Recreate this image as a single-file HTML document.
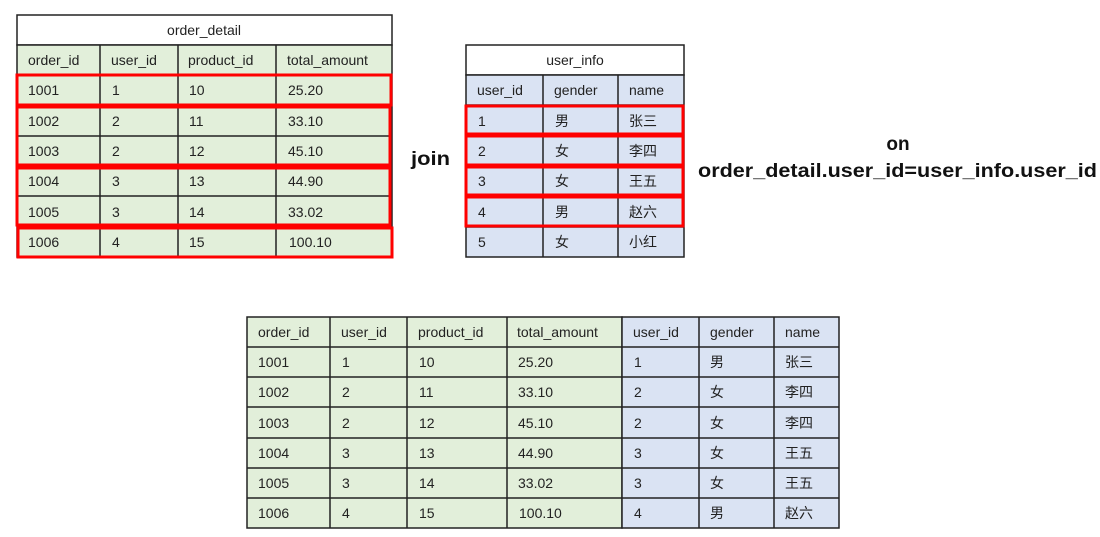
<!DOCTYPE html>
<html><head><meta charset="utf-8"><style>
html,body{margin:0;padding:0;background:#fff;}
svg{display:block;font-family:"Liberation Sans","Noto Sans CJK SC",sans-serif;}
.t{font-size:14px;fill:#222;}
.b{font-size:19px;font-weight:bold;fill:#111;}
</style></head><body>
<svg width="1100" height="537" viewBox="0 0 1100 537">
<!-- order_detail -->
<rect x="17" y="15" width="375" height="30" fill="#fff" stroke="#222" stroke-width="1.5"/>
<rect x="17" y="45" width="375" height="212" fill="#e2efda" stroke="#222" stroke-width="1.5"/>
<g stroke="#222" stroke-width="1.5">
<line x1="17" y1="75" x2="392" y2="75"/><line x1="17" y1="105" x2="392" y2="105"/><line x1="17" y1="136" x2="392" y2="136"/><line x1="17" y1="166" x2="392" y2="166"/><line x1="17" y1="196" x2="392" y2="196"/><line x1="17" y1="227" x2="392" y2="227"/>
<line x1="100" y1="45" x2="100" y2="257"/><line x1="178" y1="45" x2="178" y2="257"/><line x1="276" y1="45" x2="276" y2="257"/>
</g>
<text class="t" x="204" y="35" text-anchor="middle">order_detail</text>
<g class="t">
<text x="28" y="65">order_id</text><text x="111" y="65">user_id</text><text x="188" y="65">product_id</text><text x="287" y="65">total_amount</text>
<text x="28" y="95">1001</text><text x="112" y="95">1</text><text x="189" y="95">10</text><text x="288" y="95">25.20</text>
<text x="28" y="126">1002</text><text x="112" y="126">2</text><text x="189" y="126">11</text><text x="288" y="126">33.10</text>
<text x="28" y="156">1003</text><text x="112" y="156">2</text><text x="189" y="156">12</text><text x="288" y="156">45.10</text>
<text x="28" y="186">1004</text><text x="112" y="186">3</text><text x="189" y="186">13</text><text x="288" y="186">44.90</text>
<text x="28" y="217">1005</text><text x="112" y="217">3</text><text x="189" y="217">14</text><text x="288" y="217">33.02</text>
<text x="28" y="247">1006</text><text x="112" y="247">4</text><text x="189" y="247">15</text><text x="289" y="247">100.10</text>
</g>
<g fill="none" stroke="#f00" stroke-width="3">
<rect x="17" y="75" width="374" height="30"/>
<rect x="17" y="107" width="373" height="58"/>
<rect x="17" y="168" width="373" height="57"/>
<rect x="18" y="228" width="374" height="29"/>
</g>
<!-- user_info -->
<rect x="466" y="45" width="218" height="30" fill="#fff" stroke="#222" stroke-width="1.5"/>
<rect x="466" y="75" width="218" height="182" fill="#dae3f3" stroke="#222" stroke-width="1.5"/>
<g stroke="#222" stroke-width="1.5">
<line x1="466" y1="105" x2="684" y2="105"/><line x1="466" y1="135" x2="684" y2="135"/><line x1="466" y1="166" x2="684" y2="166"/><line x1="466" y1="196" x2="684" y2="196"/><line x1="466" y1="227" x2="684" y2="227"/>
<line x1="543" y1="75" x2="543" y2="257"/><line x1="618" y1="75" x2="618" y2="257"/>
</g>
<text class="t" x="575" y="65" text-anchor="middle">user_info</text>
<g class="t">
<text x="477" y="95">user_id</text><text x="554" y="95">gender</text><text x="629" y="95">name</text>
<text x="478" y="126">1</text><text x="555" y="126">男</text><text x="629" y="126">张三</text>
<text x="478" y="156">2</text><text x="555" y="156">女</text><text x="629" y="156">李四</text>
<text x="478" y="186">3</text><text x="555" y="186">女</text><text x="629" y="186">王五</text>
<text x="478" y="217">4</text><text x="555" y="217">男</text><text x="629" y="217">赵六</text>
<text x="478" y="247">5</text><text x="555" y="247">女</text><text x="629" y="247">小红</text>
</g>
<g fill="none" stroke="#f00" stroke-width="3">
<rect x="466" y="106" width="217" height="28"/>
<rect x="466" y="136" width="217" height="29"/>
<rect x="466" y="167" width="217" height="28"/>
<rect x="466" y="197" width="217" height="29"/>
</g>
<text class="b" x="411" y="165" textLength="39" lengthAdjust="spacingAndGlyphs">join</text>
<text class="b" x="898" y="150" text-anchor="middle">on</text>
<text class="b" x="698" y="177" textLength="399" lengthAdjust="spacingAndGlyphs">order_detail.user_id=user_info.user_id</text>
<!-- result -->
<rect x="247" y="317" width="375" height="211" fill="#e2efda" stroke="#222" stroke-width="1.5"/>
<rect x="622" y="317" width="217" height="211" fill="#dae3f3" stroke="#222" stroke-width="1.5"/>
<g stroke="#222" stroke-width="1.5">
<line x1="247" y1="347" x2="839" y2="347"/><line x1="247" y1="377" x2="839" y2="377"/><line x1="247" y1="407" x2="839" y2="407"/><line x1="247" y1="438" x2="839" y2="438"/><line x1="247" y1="468" x2="839" y2="468"/><line x1="247" y1="498" x2="839" y2="498"/>
<line x1="330" y1="317" x2="330" y2="528"/><line x1="407" y1="317" x2="407" y2="528"/><line x1="507" y1="317" x2="507" y2="528"/><line x1="699" y1="317" x2="699" y2="528"/><line x1="774" y1="317" x2="774" y2="528"/>
</g>
<g class="t">
<text x="258" y="337">order_id</text><text x="341" y="337">user_id</text><text x="418" y="337">product_id</text><text x="517" y="337">total_amount</text><text x="633" y="337">user_id</text><text x="710" y="337">gender</text><text x="785" y="337">name</text>
<text x="258" y="367">1001</text><text x="342" y="367">1</text><text x="419" y="367">10</text><text x="518" y="367">25.20</text><text x="634" y="367">1</text><text x="710" y="367">男</text><text x="785" y="367">张三</text>
<text x="258" y="397">1002</text><text x="342" y="397">2</text><text x="419" y="397">11</text><text x="518" y="397">33.10</text><text x="634" y="397">2</text><text x="710" y="397">女</text><text x="785" y="397">李四</text>
<text x="258" y="428">1003</text><text x="342" y="428">2</text><text x="419" y="428">12</text><text x="518" y="428">45.10</text><text x="634" y="428">2</text><text x="710" y="428">女</text><text x="785" y="428">李四</text>
<text x="258" y="458">1004</text><text x="342" y="458">3</text><text x="419" y="458">13</text><text x="518" y="458">44.90</text><text x="634" y="458">3</text><text x="710" y="458">女</text><text x="785" y="458">王五</text>
<text x="258" y="488">1005</text><text x="342" y="488">3</text><text x="419" y="488">14</text><text x="518" y="488">33.02</text><text x="634" y="488">3</text><text x="710" y="488">女</text><text x="785" y="488">王五</text>
<text x="258" y="518">1006</text><text x="342" y="518">4</text><text x="419" y="518">15</text><text x="519" y="518">100.10</text><text x="634" y="518">4</text><text x="710" y="518">男</text><text x="785" y="518">赵六</text>
</g>
</svg>
</body></html>
